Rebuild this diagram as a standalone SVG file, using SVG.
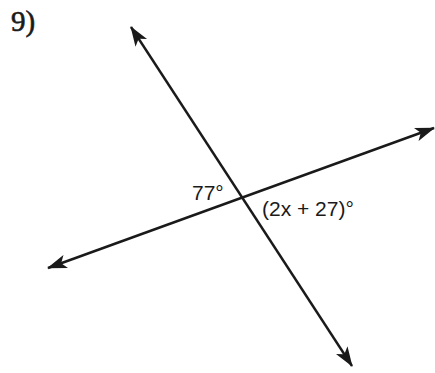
<svg xmlns="http://www.w3.org/2000/svg" width="435" height="373" viewBox="0 0 435 373">
<defs>
<style>
.ln{stroke:#1a1a1a;stroke-width:2.4;fill:none}
.lbl{font-family:"Liberation Sans",Arial,sans-serif;font-size:21px;fill:#1a1a1a}
</style>
<marker id="ah" viewBox="0 0 20 14" refX="19" refY="7" markerWidth="20" markerHeight="14" markerUnits="userSpaceOnUse" orient="auto-start-reverse">
<path d="M0,0 L20,7 L0,14 L5,7 Z" fill="#1a1a1a"/>
</marker>
</defs>
<rect width="435" height="373" fill="#fff"/>
<text x="11" y="31" font-family="'Liberation Serif','Times New Roman',serif" font-size="29" fill="#1a1a1a" stroke="#1a1a1a" stroke-width="0.6">9)</text>
<g id="connectors">
<line class="ln" x1="131" y1="27" x2="352" y2="366" marker-start="url(#ah)" marker-end="url(#ah)"/>
<line class="ln" x1="48" y1="268" x2="434" y2="128" marker-start="url(#ah)" marker-end="url(#ah)"/>
</g>
<g id="label-77"><text class="lbl" x="192" y="200">77°</text></g>
<g id="label-2x"><text class="lbl" x="262" y="216">(2x + 27)°</text></g>
</svg>
